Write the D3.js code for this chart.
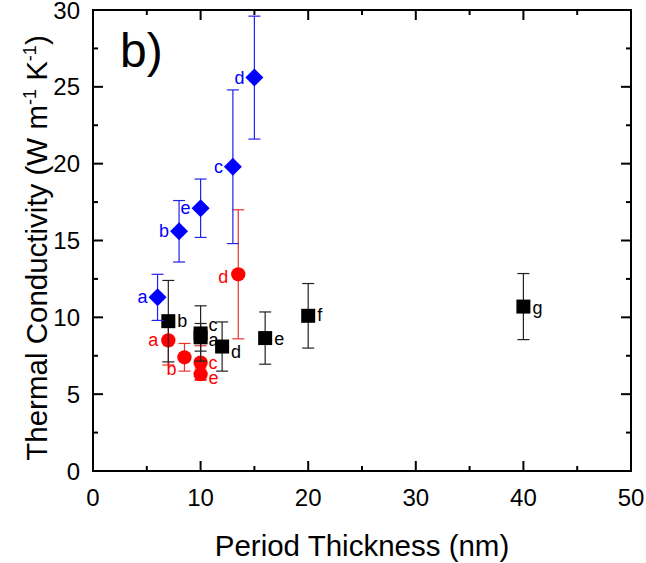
<!DOCTYPE html>
<html>
<head>
<meta charset="utf-8">
<script src="https://cdn.jsdelivr.net/npm/d3@7"></script>
<style>
  html, body { margin: 0; padding: 0; background: #fff; }
  text { font-family: "Liberation Sans", Arial, sans-serif; }
</style>
</head>
<body>
<div id="canvas"></div>
<script>
// Data (period thickness in nm, k in W m-1 K-1)
const redLabels   = ["a", "b", "c", "e", "d"];
const redX        = [7, 8.5, 10, 10, 13.5];
const redY        = [8.5, 7.4, 7.05, 6.3, 12.8];
const redErr      = [1.6, 0.9, 1.1, 0.4, 4.2];

const blackLabels = ["b", "c", "a", "d", "e", "f", "g"];
const blackX      = [7, 10, 10, 12, 16, 20, 40];
const blackY      = [9.75, 8.95, 8.7, 8.1, 8.65, 10.1, 10.7];
const blackErr    = [2.65, 1.8, 0.9, 1.6, 1.7, 2.1, 2.15];

const blueLabels  = ["a", "b", "e", "c", "d"];
const blueX       = [6, 8, 10, 13, 15];
const blueY       = [11.3, 15.6, 17.1, 19.8, 25.6];
const blueErr     = [1.5, 2.0, 1.9, 5.0, 4.0];

const xTicks = [0, 10, 20, 30, 40, 50];
const yTicks = [0, 5, 10, 15, 20, 25, 30];

// label placement (dx, dy) per point, in pixels
const redLabelPos   = [[-10, 6], [-8, 18], [8, 6], [8, 10], [-10, 9]];
const blackLabelPos = [[9, 6], [8, -2], [8, 9], [9, 11], [9, 7], [9, 5], [9, 7]];

const width = 646, height = 563;
const margin = { top: 10, right: 15, bottom: 92, left: 93 };

const svg = d3.select("#canvas").append("svg")
    .attr("width", width)
    .attr("height", height);

const x = d3.scaleLinear().domain([0, 50]).range([margin.left, width - margin.right]);
const y = d3.scaleLinear().domain([0, 30]).range([height - margin.bottom, margin.top]);

const x0 = x(0), x1 = x(50), y0 = y(0), y1 = y(30);

// axes: ticks point inward on all four sides
const ax = svg.append("g").attr("stroke", "#000").attr("stroke-width", 2);
const xMinor = d3.range(5, 50, 10);
const yMinor = d3.range(2.5, 30, 5);
xTicks.forEach(v => {
    ax.append("line").attr("x1", x(v)).attr("x2", x(v)).attr("y1", y0).attr("y2", y0 - 10);
    ax.append("line").attr("x1", x(v)).attr("x2", x(v)).attr("y1", y1).attr("y2", y1 + 10);
});
xMinor.forEach(v => {
    ax.append("line").attr("x1", x(v)).attr("x2", x(v)).attr("y1", y0).attr("y2", y0 - 5);
    ax.append("line").attr("x1", x(v)).attr("x2", x(v)).attr("y1", y1).attr("y2", y1 + 5);
});
yTicks.forEach(v => {
    ax.append("line").attr("x1", x0).attr("x2", x0 + 10).attr("y1", y(v)).attr("y2", y(v));
    ax.append("line").attr("x1", x1).attr("x2", x1 - 10).attr("y1", y(v)).attr("y2", y(v));
});
yMinor.forEach(v => {
    ax.append("line").attr("x1", x0).attr("x2", x0 + 5).attr("y1", y(v)).attr("y2", y(v));
    ax.append("line").attr("x1", x1).attr("x2", x1 - 5).attr("y1", y(v)).attr("y2", y(v));
});
svg.append("rect")
    .attr("x", x0).attr("y", y1)
    .attr("width", x1 - x0).attr("height", y0 - y1)
    .attr("fill", "none").attr("stroke", "#000").attr("stroke-width", 2);

// tick labels
svg.append("g").selectAll("text").data(xTicks).join("text")
    .attr("x", d => x(d)).attr("y", y0 + 35)
    .attr("text-anchor", "middle").attr("font-size", 24)
    .text(d => d);
svg.append("g").selectAll("text").data(yTicks).join("text")
    .attr("x", x0 - 13).attr("y", d => y(d) + 8.5)
    .attr("text-anchor", "end").attr("font-size", 24)
    .text(d => d);

// axis titles
svg.append("text")
    .attr("x", (x0 + x1) / 2).attr("y", 556)
    .attr("text-anchor", "middle").attr("font-size", 29.5)
    .text("Period Thickness (nm)");

const yt = svg.append("text")
    .attr("transform", "translate(47,248) rotate(-90)")
    .attr("text-anchor", "middle").attr("font-size", 29.5);
yt.append("tspan").text("Thermal Conductivity (W m");
yt.append("tspan").attr("dy", -11).attr("font-size", 18).text("-1");
yt.append("tspan").attr("dy", 11).text(" K");
yt.append("tspan").attr("dy", -11).attr("font-size", 18).text("-1");
yt.append("tspan").attr("dy", 11).text(")");

svg.append("text")
    .attr("x", 120).attr("y", 67)
    .attr("font-size", 48)
    .text("b)");

// series drawing
function drawSeries(xs, ys, errs, labels, color, barColor, symbolType, size, labelPos) {
    const pts = xs.map((v, i) => ({ x: v, y: ys[i], e: errs[i], label: labels[i], pos: labelPos[i] }));
    const g = svg.append("g");

    const eb = g.append("g").attr("stroke", barColor).attr("stroke-width", 1.2);
    pts.forEach(d => {
        eb.append("line").attr("x1", x(d.x)).attr("x2", x(d.x)).attr("y1", y(d.y + d.e)).attr("y2", y(d.y - d.e));
        eb.append("line").attr("x1", x(d.x) - 6).attr("x2", x(d.x) + 6).attr("y1", y(d.y + d.e)).attr("y2", y(d.y + d.e));
        eb.append("line").attr("x1", x(d.x) - 6).attr("x2", x(d.x) + 6).attr("y1", y(d.y - d.e)).attr("y2", y(d.y - d.e));
    });

    g.append("g").selectAll("path").data(pts).join("path")
        .attr("transform", d => `translate(${x(d.x)},${y(d.y)})`)
        .attr("d", d3.symbol().type(symbolType).size(size))
        .attr("fill", color);

    g.append("g").selectAll("text").data(pts).join("text")
        .attr("x", d => x(d.x) + d.pos[0])
        .attr("y", d => y(d.y) + d.pos[1])
        .attr("text-anchor", d => d.pos[0] < 0 ? "end" : "start")
        .attr("font-size", 18)
        .attr("fill", color)
        .text(d => d.label);
}

const diamond = {
    draw(ctx, s) {
        const r = Math.sqrt(s) / 2;
        ctx.moveTo(0, -r); ctx.lineTo(r, 0); ctx.lineTo(0, r); ctx.lineTo(-r, 0); ctx.closePath();
    }
};

drawSeries(redX, redY, redErr, redLabels, "#ff0000", "#f03030", d3.symbolCircle, 160, redLabelPos);
drawSeries(blackX, blackY, blackErr, blackLabels, "#000", "#222", d3.symbolSquare, 196, blackLabelPos);
drawSeries(blueX, blueY, blueErr, blueLabels, "#0000ff", "#2222ee", diamond, 324,
    blueLabels.map(() => [-10, 6]));
</script>
</body>
</html>
